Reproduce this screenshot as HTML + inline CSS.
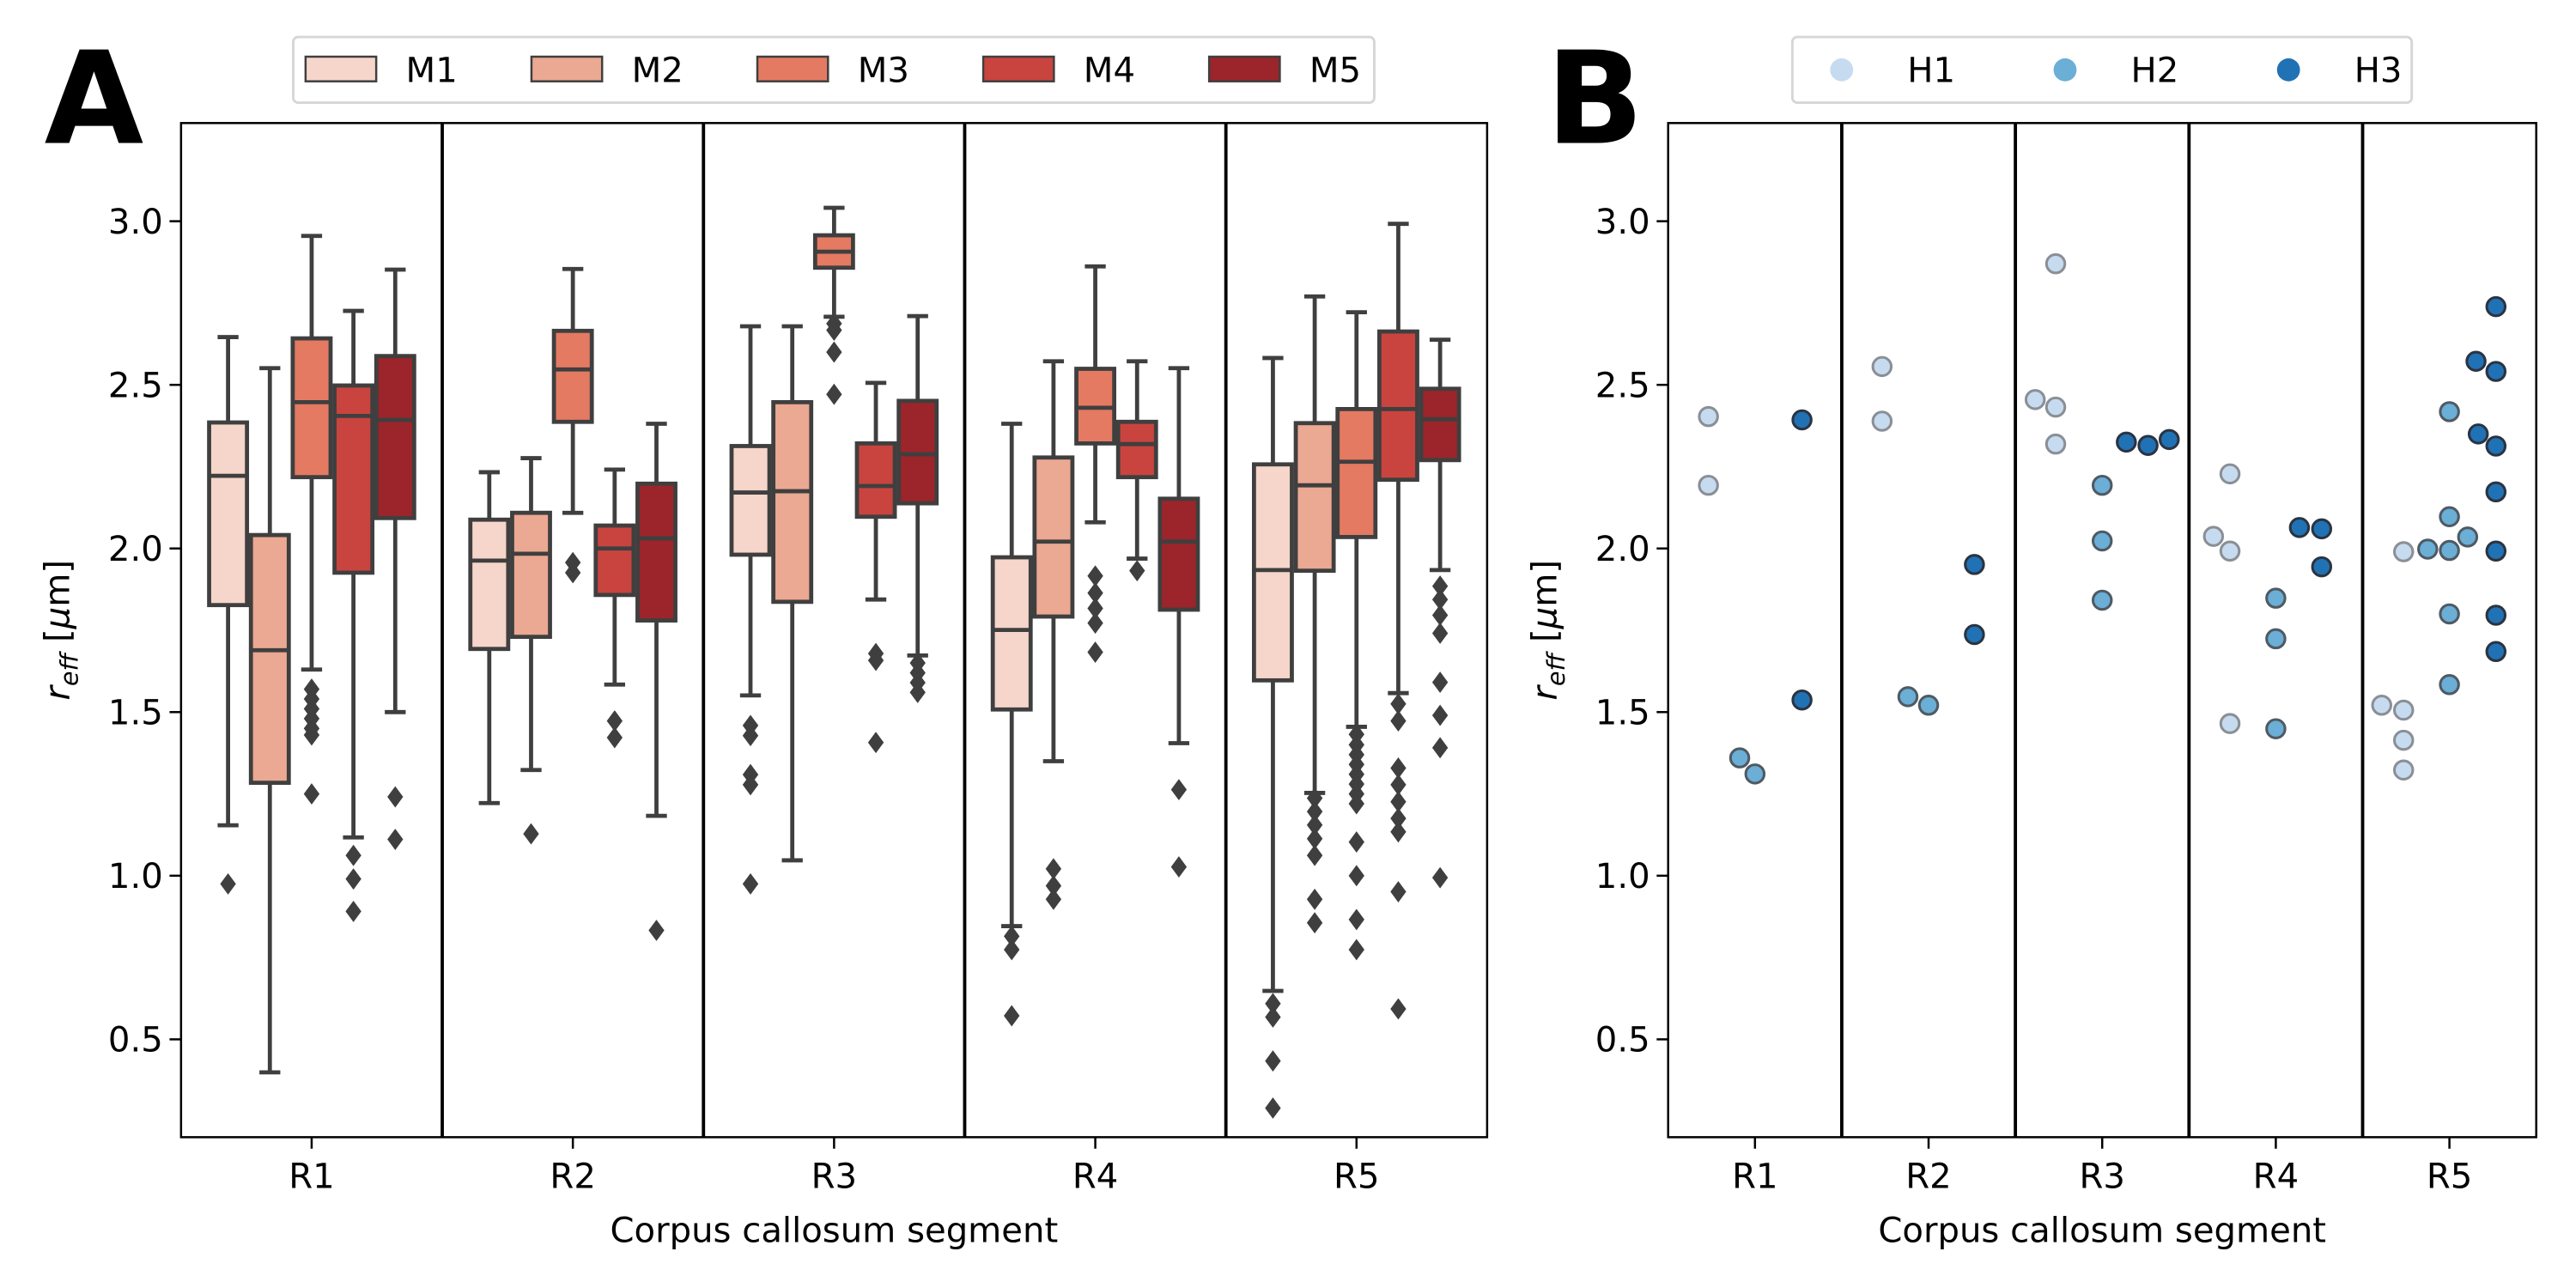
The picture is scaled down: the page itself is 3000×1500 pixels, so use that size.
<!DOCTYPE html>
<html><head><meta charset="utf-8"><style>
html,body{margin:0;padding:0;background:#fff;}
svg{display:block;}
text{font-family:"DejaVu Sans","Liberation Sans",sans-serif;fill:#000;}
</style></head><body>
<svg id="fig" xmlns="http://www.w3.org/2000/svg" width="3000" height="1500" viewBox="0 0 1568 784">
<rect width="1568" height="784" fill="#fff"/>
<g id="gA"></g>
<g id="gB"></g>
<text x="27" y="87" font-size="78" font-weight="bold">A</text>
<text x="941" y="87" font-size="78" font-weight="bold">B</text>
</svg>
<script>
const categories = ["R1","R2","R3","R4","R5"];
const boxHues = ["M1","M2","M3","M4","M5"];
const stripHues = ["H1","H2","H3"];
const yTicks = [0.5,1.0,1.5,2.0,2.5,3.0];
const yTickLabels = ["0.5","1.0","1.5","2.0","2.5","3.0"];
// per category, per hue
const whiskerLow = [[1.154,0.399,1.630,1.117,1.500],[1.222,1.323,2.109,1.584,1.183],[1.551,1.047,2.708,1.844,1.673],[0.846,1.350,2.080,1.969,1.405],[0.648,1.253,1.455,1.558,1.934]];
const q1 = [[1.827,1.284,2.218,1.926,2.093],[1.693,1.730,2.387,1.858,1.780],[1.981,1.837,2.858,2.097,2.138],[1.508,1.792,2.321,2.218,1.813],[1.597,1.932,2.035,2.210,2.270]];
const medians = [[2.222,1.689,2.447,2.405,2.393],[1.963,1.984,2.547,2.000,2.031],[2.171,2.175,2.907,2.191,2.288],[1.751,2.021,2.430,2.319,2.021],[1.934,2.193,2.265,2.426,2.395]];
const q3 = [[2.385,2.041,2.642,2.498,2.588],[2.088,2.109,2.665,2.070,2.198],[2.313,2.447,2.957,2.321,2.451],[1.973,2.278,2.549,2.387,2.152],[2.257,2.383,2.426,2.663,2.488]];
const whiskerHigh = [[2.646,2.551,2.955,2.726,2.852],[2.233,2.276,2.854,2.241,2.381],[2.679,2.679,3.041,2.506,2.710],[2.381,2.572,2.862,2.572,2.551],[2.582,2.770,2.722,2.992,2.638]];
const outliers = [
 [[0.975],[],[1.57,1.54,1.51,1.48,1.45,1.43,1.25],[1.062,0.99,0.891],[1.241,1.111]],
 [[],[1.128],[1.957,1.926],[1.473,1.422],[0.833]],
 [[1.459,1.428,1.309,1.278,0.975],[],[2.687,2.667,2.60,2.471],[1.679,1.658,1.407],[1.65,1.62,1.59,1.56]],
 [[0.815,0.774,0.572],[1.021,0.969,0.928],[1.916,1.864,1.817,1.772,1.683],[1.932],[1.263,1.027]],
 [[0.609,0.568,0.434,0.29],[1.237,1.196,1.155,1.113,1.062,0.928,0.856],[1.432,1.40,1.37,1.34,1.31,1.28,1.25,1.22,1.103,1.0,0.866,0.774],[1.525,1.473,1.329,1.278,1.226,1.175,1.134,0.951,0.593],[1.885,1.844,1.796,1.741,1.591,1.490,1.391,0.994]]
];
const stripCat =    [0,0,0,0,0,0, 1,1,1,1,1,1, 2,2,2,2,2,2,2,2,2,2, 3,3,3,3,3,3,3,3,3,3, 4,4,4,4,4,4,4,4,4,4,4,4,4,4,4,4,4,4,4,4,4];
const stripHue =    [0,0,1,1,2,2, 0,0,1,1,2,2, 0,0,0,0,1,1,1,2,2,2, 0,0,0,0,1,1,1,2,2,2, 0,0,0,0,0,1,1,1,1,1,1,1,2,2,2,2,2,2,2,2,2];
const stripJitter = [-0.268,-0.268,-0.088,0,0.271,0.271, -0.268,-0.268,-0.119,0,0.264,0.264, -0.386,-0.268,-0.268,-0.268,0,0,0,0.139,0.264,0.386, -0.359,-0.264,-0.264,-0.264,0,0,0,0.136,0.264,0.264, -0.39,-0.264,-0.264,-0.264,-0.264,-0.125,0,0,0,0,0,0.105,0.153,0.166,0.268,0.268,0.268,0.268,0.268,0.268,0.268];
const stripValue =  [2.403,2.193,1.360,1.311,2.393,1.537, 2.556,2.389,1.547,1.521,1.951,1.737, 2.455,2.870,2.432,2.319,2.193,2.023,1.842,2.325,2.315,2.333, 2.037,2.228,1.992,1.465,1.848,1.724,1.449,2.064,2.060,1.944, 1.521,1.506,1.414,1.323,1.990,1.998,2.418,2.097,1.994,1.800,1.584,2.035,2.572,2.350,2.739,2.541,2.313,2.173,1.992,1.796,1.685];

const redFill = ["#f6d6ca","#eba892","#e47a62","#c9443f","#9b252a"];
const blueFill = ["#c6dbef","#6baed6","#2171b5"];
const blueEdge = ["#8a8f96","#4f5a63","#2a3440"];
const NS="http://www.w3.org/2000/svg";
const yTop=74.9, yBot=692.2, vMin=0.201, vMax=3.30;
function yScale(v){return yBot-(v-vMin)/(vMax-vMin)*(yBot-yTop);}
function mk(parent,tag,attrs){const e=document.createElementNS(NS,tag);for(const k in attrs)e.setAttribute(k,attrs[k]);parent.appendChild(e);return e;}

function axesFrame(g,left,width,prefix){
  const gw=width/categories.length;
  for(let i=1;i<categories.length;i++){
    const l=mk(g,'line',{x1:left+gw*i,x2:left+gw*i,y1:yTop,y2:yBot,stroke:'#000','stroke-width':2});
    
    
  }
  const fr=mk(g,'rect',{x:left,y:yTop,width:width,height:yBot-yTop,fill:'none',stroke:'#000','stroke-width':1.3});
  
  
  yTicks.forEach((t,i)=>{
    const y=yScale(t);
    const tk=mk(g,'line',{x1:left-7,x2:left,y1:y,y2:y,stroke:'#000','stroke-width':1.3});
    
    
    const tx=mk(g,'text',{x:left-11,y:y+7.5,'font-size':21,'text-anchor':'end'});
    tx.textContent=yTickLabels[i];
    
    
  });
  categories.forEach((c,i)=>{
    const x=left+gw*(i+0.5);
    const tk=mk(g,'line',{x1:x,x2:x,y1:yBot,y2:yBot+7,stroke:'#000','stroke-width':1.3});
    
    
    const tx=mk(g,'text',{x:x,y:yBot+31,'font-size':21,'text-anchor':'middle'});
    tx.textContent=c;
    
    
  });
  const xl=mk(g,'text',{x:left+width/2,y:756,'font-size':21,'text-anchor':'middle'});
  xl.textContent='Corpus callosum segment';
  
  
  const yl=mk(g,'text',{x:0,y:0,'font-size':21,'text-anchor':'middle',transform:`translate(${left-68},${(yTop+yBot)/2}) rotate(-90)`});
  yl.innerHTML='<tspan font-style="italic">r</tspan><tspan font-style="italic" font-size="15" dy="5">eff</tspan><tspan dy="-5"> [</tspan><tspan font-style="italic">μ</tspan><tspan>m]</tspan>';
  
  
  return gw;
}

// Panel A
const gA=document.getElementById('gA');
const aLeft=110.2, aWidth=795;
const gwA=aWidth/categories.length;
categories.forEach((c,i)=>{
  boxHues.forEach((h,j)=>{
    const bw=gwA*0.16;
    const cx=aLeft+gwA*(i+0.5)+(j-2)*bw;
    const g=mk(gA,'g',{});
    
    
    const st={stroke:'#3f3f3f','stroke-width':2.5};
    mk(g,'line',Object.assign({x1:cx,x2:cx,y1:yScale(whiskerHigh[i][j]),y2:yScale(q3[i][j])},st));
    mk(g,'line',Object.assign({x1:cx,x2:cx,y1:yScale(q1[i][j]),y2:yScale(whiskerLow[i][j])},st));
    mk(g,'line',Object.assign({x1:cx-bw/4,x2:cx+bw/4,y1:yScale(whiskerHigh[i][j]),y2:yScale(whiskerHigh[i][j])},st));
    mk(g,'line',Object.assign({x1:cx-bw/4,x2:cx+bw/4,y1:yScale(whiskerLow[i][j]),y2:yScale(whiskerLow[i][j])},st));
    mk(g,'rect',Object.assign({x:cx-bw/2+1.2,y:yScale(q3[i][j]),width:bw-2.4,height:yScale(q1[i][j])-yScale(q3[i][j]),fill:redFill[j]},st));
    mk(g,'line',Object.assign({x1:cx-bw/2+1.2,x2:cx+bw/2-1.2,y1:yScale(medians[i][j]),y2:yScale(medians[i][j])},st));
    outliers[i][j].forEach(v=>{
      const y=yScale(v);
      const d=mk(g,'path',{d:`M${cx} ${y-6.5}L${cx+4.8} ${y}L${cx} ${y+6.5}L${cx-4.8} ${y}Z`,fill:'#3f3f3f'});
      
      
    });
  });
});
axesFrame(gA,aLeft,aWidth,'panel-a');

// Panel B
const gB=document.getElementById('gB');
const bLeft=1015.4, bWidth=528.4;
const gwB=bWidth/categories.length;
axesFrame(gB,bLeft,bWidth,'panel-b');
stripValue.forEach((v,k)=>{
  const h=stripHue[k];
  const cx=bLeft+gwB*(stripCat[k]+0.5)+stripJitter[k]*gwB;
  const c=mk(gB,'circle',{cx:cx,cy:yScale(v),r:5.6,fill:blueFill[h],stroke:blueEdge[h],'stroke-width':1.6});
  
  
});

// Legends
const svg=document.getElementById('fig');
const lgA=mk(svg,'g',{});


mk(lgA,'rect',{x:178.5,y:22.5,width:658,height:40,rx:3,fill:'#fff',stroke:'#d6d6d6','stroke-width':1.5});
boxHues.forEach((h,j)=>{
  const x=186+137.5*j;
  const e=mk(lgA,'g',{});
  
  
  mk(e,'rect',{x:x,y:34.5,width:43,height:15,fill:redFill[j],stroke:'#3f3f3f','stroke-width':1.3});
  const t=mk(e,'text',{x:x+61,y:50,'font-size':21});
  t.textContent=h;
});
const lgB=mk(svg,'g',{});


mk(lgB,'rect',{x:1091,y:22.5,width:377,height:40,rx:3,fill:'#fff',stroke:'#d6d6d6','stroke-width':1.5});
stripHues.forEach((h,j)=>{
  const x=1121+136*j;
  const e=mk(lgB,'g',{});
  
  
  mk(e,'circle',{cx:x,cy:42.5,r:7,fill:blueFill[j]});
  const t=mk(e,'text',{x:x+40,y:50,'font-size':21});
  t.textContent=h;
});
</script>
</body></html>
